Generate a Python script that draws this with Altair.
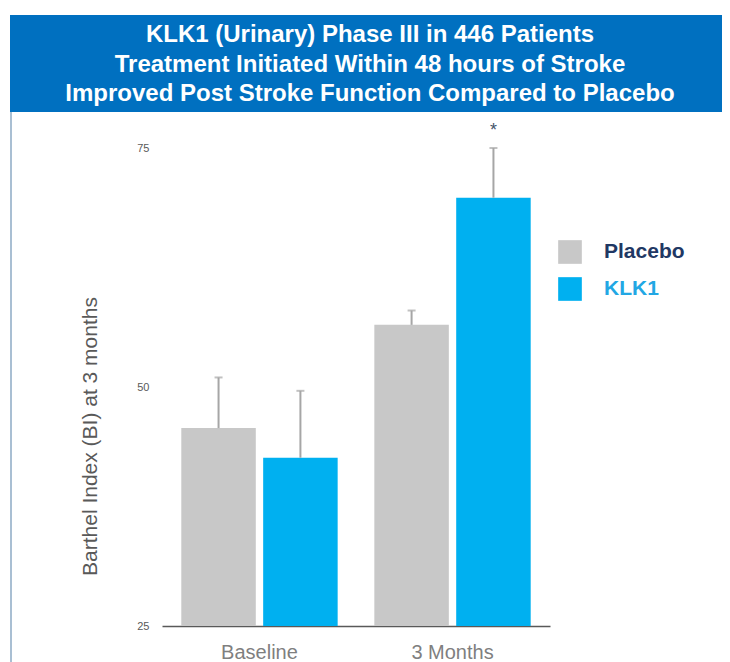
import altair as alt
import pandas as pd

# ---- data ----
groups = ["Baseline", "Baseline", "3 Months", "3 Months"]
arms = ["Placebo", "KLK1", "Placebo", "KLK1"]
means = [45.7, 42.6, 56.5, 69.8]
err_hi = [51.0, 49.6, 58.0, 75.0]
sig = ["", "", "", "*"]

group_order = ["Baseline", "3 Months"]
arm_order = ["Placebo", "KLK1"]
arm_colors = ["#C8C8C8", "#00B0F0"]
y_ticks = [25, 50, 75]

title_lines = [
    "KLK1 (Urinary) Phase III in 446 Patients",
    "Treatment Initiated Within 48 hours of Stroke",
    "Improved Post Stroke Function Compared to Placebo",
]

df = pd.DataFrame({"group": groups, "arm": arms, "mean": means,
                   "hi": err_hi, "sig": sig})

FONT = "Liberation Sans, Arial, sans-serif"
W, H = 388, 478

x_enc = alt.X("group:N", sort=group_order,
              scale=alt.Scale(paddingInner=0.19, paddingOuter=0.1),
              axis=alt.Axis(title=None, labelAngle=0, labelFontSize=20,
                            labelColor="#7F7F7F", labelPadding=16, ticks=False,
                            domainColor="#595959", domainWidth=1.5, labelFont=FONT))
xo_enc = alt.XOffset("arm:N", sort=arm_order,
                     scale=alt.Scale(paddingInner=0.09, paddingOuter=0))
y_scale = alt.Scale(domain=[25, 75], zero=False, nice=False)

base = alt.Chart(df)

bars = base.mark_bar().encode(
    x=x_enc,
    xOffset=xo_enc,
    y=alt.Y("mean:Q", scale=y_scale,
            axis=alt.Axis(values=y_ticks, title="Barthel Index (BI) at 3 months",
                          grid=False, domain=False, ticks=False, labelFontSize=11,
                          labelColor="#595959", labelPadding=13, labelFont=FONT,
                          titleFont=FONT, titleFontSize=21, titleFontWeight="normal",
                          titleColor="#595959", titleAngle=-90, titleX=-72, titleY=288,
                          titleAlign="center", titleBaseline="middle")),
    y2=alt.datum(25),
    color=alt.Color("arm:N", sort=arm_order,
                    scale=alt.Scale(domain=arm_order, range=arm_colors),
                    legend=alt.Legend(title=None, orient="none", legendX=396, legendY=92,
                                      symbolType="square", symbolSize=560,
                                      symbolStrokeWidth=0, rowPadding=13,
                                      labelOffset=22, labelFontSize=21,
                                      labelFontWeight="bold", labelFont=FONT,
                                      labelColor=alt.ExprRef("datum.label == 'KLK1' ? '#22A7E4' : '#1F3864'"))),
)

rules = base.mark_rule(color="#A6A6A6", strokeWidth=2).encode(
    x=alt.X("group:N", sort=group_order),
    xOffset=alt.XOffset("arm:N", sort=arm_order),
    y=alt.Y("mean:Q"),
    y2="hi:Q",
)

caps = base.mark_tick(color="#A6A6A6", thickness=2, size=8).encode(
    x=alt.X("group:N", sort=group_order),
    xOffset=alt.XOffset("arm:N", sort=arm_order),
    y=alt.Y("hi:Q"),
)

stars = base.mark_text(fontSize=18, dy=-17, color="#44546A", font=FONT).encode(
    x=alt.X("group:N", sort=group_order),
    xOffset=alt.XOffset("arm:N", sort=arm_order),
    y=alt.Y("hi:Q"),
    text="sig:N",
)

band = alt.Chart(pd.DataFrame({"k": [0]})).mark_rect(color="#0070C0").encode(
    x=alt.value(-152), x2=alt.value(580), y=alt.value(-133), y2=alt.value(-36))

side = alt.Chart(pd.DataFrame({"k": [0]})).mark_rule(color="#A9BFD3", strokeWidth=2).encode(
    x=alt.value(-151), y=alt.value(-36), y2=alt.value(520))

title_df = pd.DataFrame({"t": ["\n".join(title_lines)]})
title = alt.Chart(title_df).mark_text(
    color="white", fontSize=24, fontWeight="bold", font=FONT,
    lineBreak="\n", lineHeight=29.5, align="center", baseline="middle",
).encode(x=alt.value(208), y=alt.value(-113), text="t:N")

chart = alt.layer(band, side, title, bars, rules, caps, stars).properties(
    width=W, height=H,
    background="white",
    autosize=alt.AutoSizeParams(type="none"),
    padding={"left": 154, "top": 140, "right": 172, "bottom": 36},
).configure_view(stroke=None)

chart.save("out.html", embed_options={"renderer": "svg", "actions": False})
